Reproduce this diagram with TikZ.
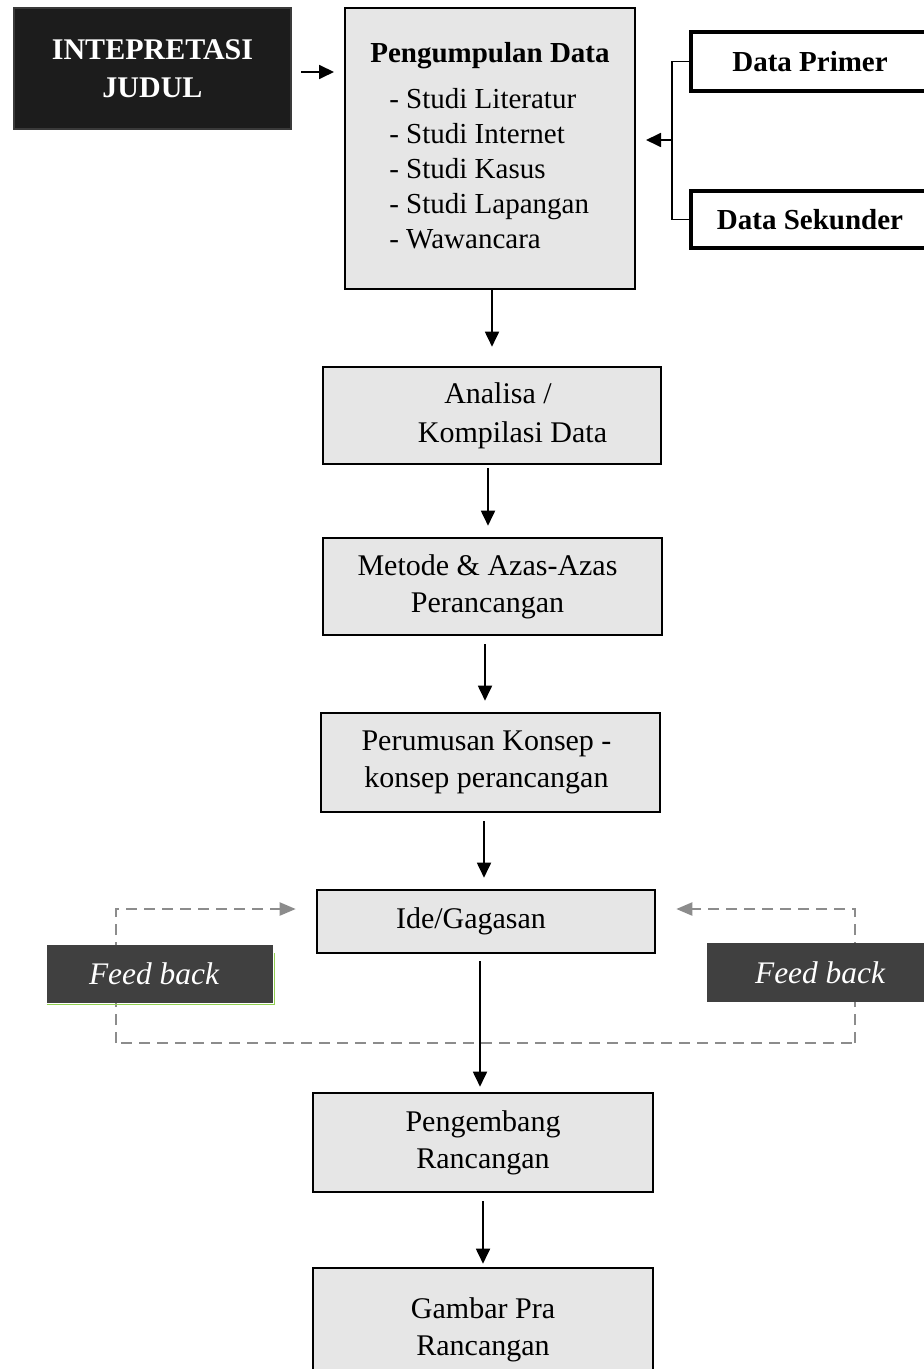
\documentclass[tikz,border=0pt]{standalone}
\usepackage{fontspec}
\setmainfont{Liberation Serif}
\usetikzlibrary{arrows.meta}
\definecolor{boxgray}{HTML}{E6E6E6}
\definecolor{fbgray}{HTML}{404040}
\definecolor{dashgray}{HTML}{8C8C8C}
\definecolor{fbgreen}{HTML}{92D050}
\definecolor{darkbox}{HTML}{1C1C1C}
\definecolor{darkedge}{HTML}{3A3A3A}
\begin{document}
\begin{tikzpicture}[x=0.5pt,y=-0.5pt,
  mainbox/.style={draw=black, line width=1.3pt, fill=boxgray, inner sep=0pt,
    minimum width=169pt, align=center, font=\fontsize{15}{18.5}\selectfont},
  databox/.style={draw=black, line width=1.7pt, fill=white, inner sep=0pt,
    minimum width=119pt, font=\fontsize{14.5}{17.5}\selectfont\bfseries},
  fbbox/.style={fill=fbgray, inner sep=0pt, minimum width=113pt, minimum height=29pt,
    text=white, font=\fontsize{15.7}{18}\selectfont\itshape},
  arr/.style={line width=0.9pt, -{Triangle[length=7.5pt,width=7pt]}},
  fbline/.style={draw=dashgray, line width=1.1pt, dash pattern=on 5.5pt off 3.5pt},
  fbarr/.style={fbline, -{Triangle[length=8pt,width=6.5pt]}}
]
\useasboundingbox (0,0) rectangle (924,1369);
\fill[white] (0,0) rectangle (924,1369);
\clip (0,0) rectangle (924,1369);

% top row
\node[fill=darkbox, draw=darkedge, line width=1pt, inner sep=0pt,
  minimum width=138.5pt, minimum height=60.5pt, text=white, align=center,
  font=\fontsize{15}{19}\selectfont\bfseries] (ij) at (152.5,68.5) {INTEPRETASI\\JUDUL};

\node[draw=black, line width=1pt, fill=boxgray, inner sep=0pt,
  minimum width=145pt, minimum height=140.5pt,
  font=\fontsize{14.5}{17.5}\selectfont] (pd) at (490,148.5)
  {\begin{tabular}{@{}l@{}}
   \multicolumn{1}{@{}c@{}}{\bfseries Pengumpulan Data}\\[5.5pt]
   \hspace*{9.5pt}- Studi Literatur\\
   \hspace*{9.5pt}- Studi Internet\\
   \hspace*{9.5pt}- Studi Kasus\\
   \hspace*{9.5pt}- Studi Lapangan\\
   \hspace*{9.5pt}- Wawancara
   \end{tabular}};

\node[databox, minimum height=29.5pt] (dp) at (810,61.5) {Data Primer};
\node[databox, minimum height=28.5pt] (ds) at (810,219.5) {Data Sekunder};

\coordinate (j) at (672,140);
\draw[line width=0.9pt] (dp.west) -| (j) |- (ds.west);
\draw[arr, shorten >=5pt] (j) -- (j -| pd.east);
\draw[arr, shorten <=4.5pt, shorten >=5pt] ([yshift=-1.75pt]ij.east) -- ([yshift=-1.75pt]ij.east -| pd.west);

% main column
\node[mainbox, minimum height=48.5pt, font=\fontsize{15}{19.5}\selectfont] (an) at (492,415.5)
  {\hspace*{6pt}Analisa /\\\hspace*{20.5pt}Kompilasi Data};
\node[mainbox, minimum width=169.5pt, minimum height=48.5pt] (me) at (492.5,586.5)
  {Metode \& Azas-Azas\hspace*{5pt}\\Perancangan\hspace*{5pt}};
\node[mainbox, minimum width=169.5pt, minimum height=49.5pt] (pe) at (490.5,762.5)
  {Perumusan Konsep -\hspace*{4pt}\\konsep perancangan\hspace*{4pt}};
\node[mainbox, minimum height=31.5pt] (ide) at (486,921.5) {Ide/Gagasan\hspace*{15pt}};
\node[mainbox, minimum width=170pt, minimum height=49.5pt] (pg) at (483,1142.5)
  {Pengembang\\Rancangan};
\node[mainbox, minimum width=170pt, minimum height=62pt] (gp) at (483,1330)
  {Gambar Pra\\Rancangan};

\draw[arr, shorten >=9.5pt] ([xshift=1pt]pd.south) -- ([xshift=1pt]pd.south |- an.north);
\draw[arr, shorten <=1.5pt, shorten >=5.5pt] ([xshift=-2pt]an.south) -- ([xshift=-2pt]an.south |- me.north);
\draw[arr, shorten <=4pt, shorten >=5.5pt] ([xshift=-3.75pt]me.south) -- ([xshift=-3.75pt]me.south |- pe.north);
\draw[arr, shorten <=4pt, shorten >=5.5pt] ([xshift=-3.25pt]pe.south) -- ([xshift=-3.25pt]pe.south |- ide.north);
\draw[arr, shorten <=3.5pt, shorten >=2.5pt] ([xshift=-3pt]ide.south) -- ([xshift=-3pt]ide.south |- pg.north);
\draw[arr, shorten <=4pt, shorten >=1.5pt] (pg.south) -- (pg.south |- gp.north);

% feedback loop
\coordinate (fbL) at (116,1043);
\coordinate (fbR) at (855,1043);
\draw[fbline] ([xshift=2.5pt]fbL) -- (fbR);
\draw[fbarr, shorten >=10pt] (fbL) |- ([yshift=6.25pt]ide.west);
\draw[fbarr, shorten >=10pt] (fbR) |- ([yshift=6.25pt]ide.east);

\node[fbbox] (fb1) at (160,974) {Feed back\hspace*{6pt}};
\node[fbbox, minimum height=29.5pt] (fb2) at (820,972.5) {Feed back};
\draw[fbgreen, line width=0.5pt] ([yshift=-0.6pt]fb1.south west) -| ([xshift=0.6pt,yshift=-4pt]fb1.north east);
\end{tikzpicture}
\end{document}
